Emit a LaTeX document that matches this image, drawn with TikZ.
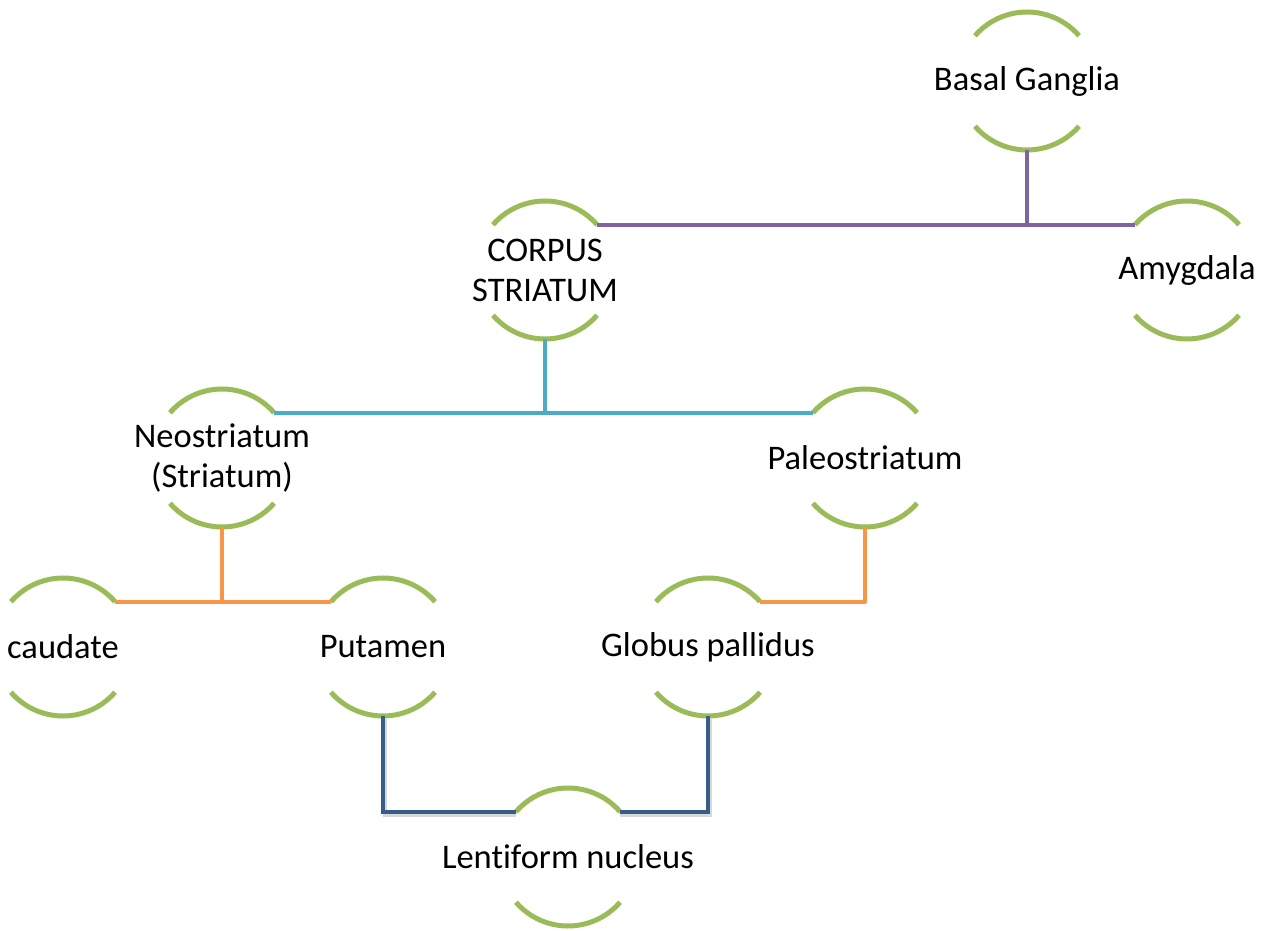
\documentclass[tikz,border=0pt]{standalone}
\usepackage{fontspec}
\setmainfont[Ligatures=NoCommon]{Carlito}
\definecolor{ringgreen}{HTML}{9BBB59}
\definecolor{linkpurple}{HTML}{8064A2}
\definecolor{linkcyan}{HTML}{4BACC6}
\definecolor{linkorange}{HTML}{F79646}
\definecolor{linkblue}{HTML}{385D8A}
\begin{document}
\begin{tikzpicture}[x=1pt,y=1pt,
  ring/.style={circle,minimum size=138pt,inner sep=0pt,outer sep=0pt},
  lbl/.style={font=\fontsize{34.5}{40}\selectfont,align=center,inner sep=0pt},
  arcline/.style={draw=ringgreen,line width=5pt},
  link/.style={line width=4pt},
  purplelink/.style={link,draw=linkpurple},
  cyanlink/.style={link,draw=linkcyan},
  orangelink/.style={link,draw=linkorange},
  bluelink/.style={link,draw=linkblue},
  shadowlink/.style={link,draw=black!25,opacity=0.6}]
\useasboundingbox (0,0) rectangle (1266,930);
\fill[white] (0,0) rectangle (1266,930);

\node[ring] (bg) at (1027,849) {};
\node[ring] (cs) at (545,660) {};
\node[ring] (am) at (1187,660) {};
\node[ring] (ne) at (222,472) {};
\node[ring] (pa) at (865,472) {};
\node[ring] (ca) at (63,283) {};
\node[ring] (pu) at (383,283) {};
\node[ring] (gp) at (708,283) {};
\node[ring] (le) at (568,73) {};

\node[lbl] (bgt) at (bg) {Basal Ganglia};
\node[lbl] (cst) at (cs) {CORPUS\\STRIATUM};
\node[lbl] (amt) at (am) {Amygdala};
\node[lbl] (net) at (ne) {Neostriatum\\(Striatum)};
\node[lbl] (pat) at (pa) {Paleostriatum};
\node[lbl] (cat) at (ca) {caudate};
\node[lbl] (put) at (pu) {Putamen};
\node[lbl] (gpt) at (gp) {Globus pallidus};
\node[lbl] (let) at (le) {Lentiform nucleus};

\foreach \n in {bg,cs,am,ne,pa,ca,pu,gp,le}{
  \draw[arcline] (\n.41) arc[start angle=41,end angle=139,radius=69pt];
  \draw[arcline] (\n.-139) arc[start angle=-139,end angle=-41,radius=69pt];
}

% purple
\draw[purplelink] (bg.south) -- (bg.south |- cs.41);
\draw[purplelink] (cs.41) -- (am.139);
% cyan
\draw[cyanlink] (cs.south) -- (cs.south |- ne.41);
\draw[cyanlink] (ne.41) -- (pa.139);
% orange
\draw[orangelink] (ne.south) -- (ne.south |- ca.41);
\draw[orangelink] (ca.41) -- (pu.139);
\draw[orangelink,line join=round] (pa.south) |- (gp.41);
% blue with shadow
\draw[shadowlink] ([shift={(2,-3)}]pu.south) |- ([shift={(0,-3)}]le.139);
\draw[shadowlink] ([shift={(2,-3)}]gp.south) |- ([shift={(0,-3)}]le.41);
\draw[bluelink] (pu.south) |- (le.139);
\draw[bluelink] (gp.south) |- (le.41);
\end{tikzpicture}
\end{document}
